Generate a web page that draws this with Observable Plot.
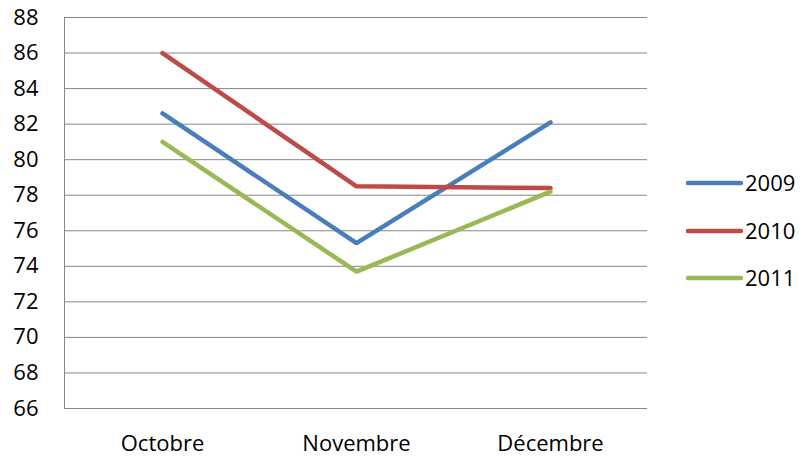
<!DOCTYPE html>
<html>
<head>
<meta charset="utf-8">
<script src="https://cdn.jsdelivr.net/npm/d3@7"></script>
<script src="https://cdn.jsdelivr.net/npm/@observablehq/plot@0.6"></script>
<style>
  html, body { margin: 0; padding: 0; background: #fff; }
  #wrap { position: relative; width: 802px; height: 456px; }
  #legend { position: absolute; left: 0; top: 0; }
</style>
</head>
<body>
<div id="wrap"></div>
<script>
const months = ["Octobre", "Novembre", "Décembre"];
const years = ["2009", "2010", "2011"];
const v2009 = [82.6, 75.3, 82.1];
const v2010 = [86.0, 78.5, 78.4];
const v2011 = [81.0, 73.7, 78.2];
const colors = ["#4A7EBB", "#BE4B48", "#98B954"];
const yTicks = [66, 68, 70, 72, 74, 76, 78, 80, 82, 84, 86, 88];

const series = [v2009, v2010, v2011];
const data = [];
years.forEach((yr, i) => months.forEach((m, j) => data.push({year: yr, month: m, value: series[i][j]})));

const W = 802, H = 456;
const mL = 64, mR = 155, mT = 17, mB = 48;

const chart = Plot.plot({
  width: W, height: H,
  marginLeft: mL, marginRight: mR, marginTop: mT, marginBottom: mB,
  style: {fontFamily: "'Open Sans', sans-serif", fontSize: "22px", color: "#000", background: "#fff"},
  x: {type: "point", domain: months, padding: 0.5, label: null},
  y: {domain: [66, 88], label: null},
  color: {domain: years, range: colors},
  marks: [
    Plot.gridY(yTicks.filter(t => t > 66), {stroke: "#878787", strokeOpacity: 1, strokeWidth: 1}),
    Plot.ruleY([66], {stroke: "#878787", strokeWidth: 1}),
    (index, scales, values, dims) => {
      const g = d3.create("svg:g");
      g.append("line")
        .attr("x1", dims.marginLeft + 0.5).attr("x2", dims.marginLeft + 0.5)
        .attr("y1", dims.marginTop).attr("y2", dims.height - dims.marginBottom + 0.5)
        .attr("stroke", "#878787").attr("stroke-width", 1);
      return g.node();
    },
    Plot.axisY({ticks: yTicks, tickSize: 0, tickPadding: 26, fontSize: 22, label: null}),
    Plot.axisX({tickSize: 0, tickPadding: 27, fontSize: 22, label: null}),
    Plot.line(data, {x: "month", y: "value", z: "year", stroke: "year", strokeWidth: 4.5, strokeLinecap: "round", strokeLinejoin: "miter"})
  ]
});

const wrap = document.getElementById("wrap");
wrap.appendChild(chart);

// Legend overlay
const legend = d3.select(wrap).append("svg")
  .attr("id", "legend").attr("width", W).attr("height", H);
const rowY = [183, 231, 278];
years.forEach((yr, i) => {
  const g = legend.append("g");
  g.append("line")
    .attr("x1", 688).attr("x2", 741).attr("y1", rowY[i]).attr("y2", rowY[i])
    .attr("stroke", colors[i]).attr("stroke-width", 4.5).attr("stroke-linecap", "round");
  g.append("text")
    .attr("x", 745).attr("y", rowY[i]).attr("dy", "0.36em")
    .attr("font-family", "'Open Sans', sans-serif").attr("font-size", 22).attr("fill", "#000")
    .text(yr);
});
</script>
</body>
</html>
